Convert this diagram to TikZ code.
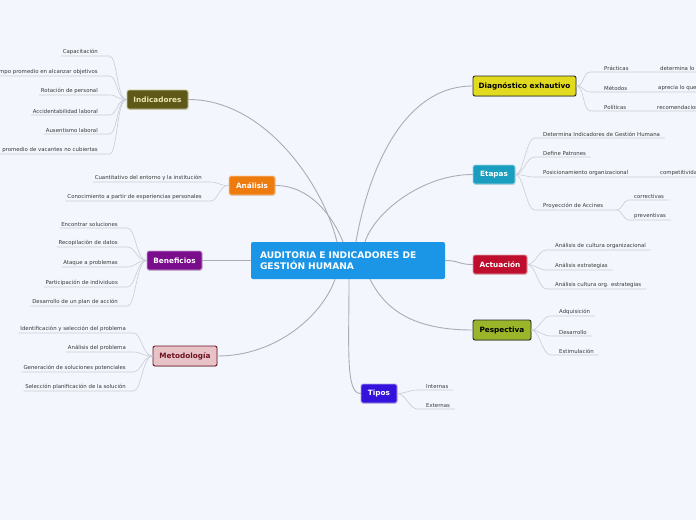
\documentclass[tikz,border=0pt]{standalone}
\usepackage{fontspec}
\setmainfont{DejaVu Sans}
\usetikzlibrary{shadows}
\definecolor{bgcol}{HTML}{F4F6FD}
\definecolor{cencol}{HTML}{1B95E6}
\definecolor{indcol}{HTML}{5F5919}
\definecolor{indbrd}{HTML}{C9C58E}
\definecolor{indtxt}{HTML}{ECE6B0}
\definecolor{anacol}{HTML}{EE7B0E}
\definecolor{bencol}{HTML}{7A0D8B}
\definecolor{metcol}{HTML}{E7C3C7}
\definecolor{mettxt}{HTML}{6D1020}
\definecolor{diacol}{HTML}{E2DA1E}
\definecolor{etpcol}{HTML}{1A9EBF}
\definecolor{actcol}{HTML}{BF0D2E}
\definecolor{pescol}{HTML}{9BB52B}
\definecolor{tipcol}{HTML}{3412DB}
\definecolor{leafcol}{HTML}{3A3A3A}
\definecolor{branchcol}{HTML}{ABACB5}
\definecolor{twigcol}{HTML}{CACCD5}
\begin{document}
\begin{tikzpicture}[x=1pt,y=-1pt,line cap=round,line join=round,
 topic/.style={draw,rounded corners=2pt,line width=.9pt,inner sep=1pt,
  minimum height=19pt,font=\bfseries\fontsize{7.3}{9}\selectfont,
  drop shadow={shadow xshift=.5pt,shadow yshift=-.8pt,opacity=.3}},
 leaf/.style={font=\fontsize{5.4}{6.5}\selectfont,text=leafcol,
  inner xsep=1.5pt,inner ysep=1.5pt},
 branch/.style={draw=branchcol,line width=.9pt},
 twig/.style={draw=twigcol,line width=.6pt}]
\fill[bgcol] (0,0) rectangle (696,520);
\useasboundingbox (0,0) rectangle (696,520);
\node[fill=cencol,text=white,rounded corners=2pt,minimum width=194pt,
 minimum height=37pt,text width=176pt,align=left,inner xsep=9pt,
 font=\bfseries\fontsize{9.1}{11.5}\selectfont] (cen) at (348,260.5)
 {AUDITORIA E INDICADORES DE\\GESTIÓN HUMANA};
\node[topic,fill=indcol,draw=indbrd,text=indtxt,minimum width=61pt] (ind) at (157.5,99.5) {Indicadores};
\node[topic,fill=anacol,draw=anacol!40,text=white,minimum width=46pt] (ana) at (252,185.5) {Análisis};
\node[topic,fill=bencol,draw=bencol!40,text=white,minimum width=55pt] (ben) at (174.5,260.5) {Beneficios};
\node[topic,fill=metcol,draw=mettxt,text=mettxt,minimum width=64pt,minimum height=20pt] (met) at (185,356) {Metodología};
\node[topic,fill=diacol,draw=black!85,text=black,minimum width=103pt,minimum height=20pt] (dia) at (524.5,86) {Diagnóstico exhautivo};
\node[topic,fill=etpcol,draw=etpcol!40,text=white,minimum width=42pt] (etp) at (494,174.5) {Etapas};
\node[topic,fill=actcol,draw=actcol!40,text=white,minimum width=54pt] (act) at (500,264.5) {Actuación};
\node[topic,fill=pescol,draw=black!85,text=black,minimum width=58pt,minimum height=20pt] (pes) at (502,330) {Pespectiva};
\node[topic,fill=tipcol,draw=tipcol!40,text=white,minimum width=36pt] (tip) at (379,393.5) {Tipos};
\draw[branch] (ind.east) .. controls +(75,0) and +(-15,-60) .. ([xshift=-11pt]cen.north);
\draw[branch] (ana.east) .. controls +(35,0) and +(-10,-25) .. ([xshift=-5pt]cen.north);
\draw[branch] (ben.east) -- (cen.west);
\draw[branch] (met.east) .. controls +(60,0) and +(-12,35) .. ([xshift=-13pt]cen.south);
\draw[branch] (dia.west) .. controls +(-70,0) and +(12,-70) .. ([xshift=8pt]cen.north);
\draw[branch] (etp.west) .. controls +(-50,0) and +(10,-30) .. ([xshift=17pt]cen.north);
\draw[branch] (cen.east) .. controls +(14,0) and +(-14,0) .. (act.west);
\draw[branch] ([xshift=22pt]cen.south) .. controls +(15,30) and +(-60,0) .. (pes.west);
\draw[branch] ([xshift=1pt]cen.south) .. controls +(0,70) and +(-15,0) .. (tip.west);
\node[leaf,anchor=south east] (i1) at (99.5,56) {Capacitación};
\node[leaf,anchor=south east] (i2) at (99.5,76) {Tiempo promedio en alcanzar objetivos};
\node[leaf,anchor=south east] (i3) at (99.5,95) {Rotación de personal};
\node[leaf,anchor=south east] (i4) at (99.5,115) {Accidentabilidad laboral};
\node[leaf,anchor=south east] (i5) at (99.5,134) {Ausentismo laboral};
\node[leaf,anchor=south east] (i6) at (99.5,154) {Tiempo promedio de vacantes no cubiertas};
\foreach \n in {i1,i2,i3,i4,i5,i6}
  \draw[twig] (ind.west) .. controls +(-10,0) and +(8,0) .. ([xshift=10pt]\n.south east) -- (\n.south west);
\node[leaf,anchor=south east] (a1) at (203.5,182) {Cuantitativo del entorno y la institución};
\node[leaf,anchor=south east] (a2) at (203.5,201) {Conocimiento a partir de experiencias personales};
\foreach \n in {a1,a2}
  \draw[twig] (ana.west) .. controls +(-10,0) and +(8,0) .. ([xshift=7pt]\n.south east) -- (\n.south west);
\node[leaf,anchor=south east] (b1) at (119.5,228) {Encontrar soluciones};
\node[leaf,anchor=south east] (b2) at (119.5,247) {Recopilación de datos};
\node[leaf,anchor=south east] (b3) at (119.5,267) {Ataque a problemas};
\node[leaf,anchor=south east] (b4) at (119.5,287) {Participación de individuos};
\node[leaf,anchor=south east] (b5) at (119.5,306) {Desarrollo de un plan de acción};
\foreach \n in {b1,b2,b3,b4,b5}
  \draw[twig] (ben.west) .. controls +(-10,0) and +(8,0) .. ([xshift=8pt]\n.south east) -- (\n.south west);
\node[leaf,anchor=south east] (m1) at (127.5,333) {Identificación y selección del problema};
\node[leaf,anchor=south east] (m2) at (127.5,352) {Análisis del problema};
\node[leaf,anchor=south east] (m3) at (127.5,372) {Generación de soluciones potenciales};
\node[leaf,anchor=south east] (m4) at (127.5,391) {Selección planificación de la solución};
\foreach \n in {m1,m2,m3,m4}
  \draw[twig] (met.west) .. controls +(-10,0) and +(8,0) .. ([xshift=6pt]\n.south east) -- (\n.south west);
\node[leaf,anchor=south west] (d1) at (602.5,72) {Prácticas};
\node[leaf,anchor=south west] (d2) at (602.5,92) {Métodos};
\node[leaf,anchor=south west] (d3) at (602.5,111) {Políticas};
\node[leaf,anchor=south west] (d1b) at (658.5,72) {determina lo};
\node[leaf,anchor=south west] (d2b) at (656.5,92) {aprecia lo que};
\node[leaf,anchor=south west] (d3b) at (655.5,111) {recomendaciones};
\draw[twig] (dia.east) .. controls +(8,0) and +(-8,0) .. ([xshift=-12pt]d1.south west) -- (d1b.south east);
\draw[twig] (dia.east) .. controls +(8,0) and +(-8,0) .. ([xshift=-12pt]d2.south west) -- (d2b.south east);
\draw[twig] (dia.east) .. controls +(8,0) and +(-8,0) .. ([xshift=-12pt]d3.south west) -- (d3b.south east);
\node[leaf,anchor=south west] (e1) at (541.5,138) {Determina Indicadores de Gestión Humana};
\node[leaf,anchor=south west] (e2) at (541.5,157) {Define Patrones};
\node[leaf,anchor=south west] (e3) at (541.5,177) {Posicionamiento organizacional};
\node[leaf,anchor=south west] (e4) at (541.5,210) {Proyección de Accines};
\node[leaf,anchor=south west] (e3b) at (658.5,177) {competitividad};
\node[leaf,anchor=south west] (e4a) at (632.5,200) {correctivas};
\node[leaf,anchor=south west] (e4b) at (632.5,220) {preventivas};
\draw[twig] (etp.east) .. controls +(8,0) and +(-8,0) .. ([xshift=-7pt]e1.south west) -- ([xshift=3pt]e1.south east);
\draw[twig] (etp.east) .. controls +(8,0) and +(-8,0) .. ([xshift=-7pt]e2.south west) -- ([xshift=3pt]e2.south east);
\draw[twig] (etp.east) .. controls +(8,0) and +(-8,0) .. ([xshift=-7pt]e3.south west) -- (e3b.south east);
\draw[twig] (etp.east) .. controls +(8,0) and +(-8,0) .. ([xshift=-7pt]e4.south west) -- ([xshift=12pt]e4.south east);
\foreach \n in {e4a,e4b}
  \draw[twig] ([xshift=12pt]e4.south east) .. controls +(5,0) and +(-5,0) .. ([xshift=-4pt]\n.south west) -- ([xshift=3pt]\n.south east);
\node[leaf,anchor=south west] (c1) at (553.5,250) {Análisis de cultura organizacional};
\node[leaf,anchor=south west] (c2) at (553.5,270) {Análisis estrategias};
\node[leaf,anchor=south west] (c3) at (553.5,289) {Análisis cultura org. estrategias};
\foreach \n in {c1,c2,c3}
  \draw[twig] (act.east) .. controls +(8,0) and +(-8,0) .. ([xshift=-7pt]\n.south west) -- ([xshift=3pt]\n.south east);
\node[leaf,anchor=south west] (p1) at (557.5,316) {Adquisición};
\node[leaf,anchor=south west] (p2) at (557.5,336) {Desarrollo};
\node[leaf,anchor=south west] (p3) at (557.5,355) {Estimulación};
\foreach \n in {p1,p2,p3}
  \draw[twig] (pes.east) .. controls +(8,0) and +(-8,0) .. ([xshift=-7pt]\n.south west) -- ([xshift=3pt]\n.south east);
\node[leaf,anchor=south west] (t1) at (424.5,390) {Internas};
\node[leaf,anchor=south west] (t2) at (424.5,409) {Externas};
\foreach \n in {t1,t2}
  \draw[twig] (tip.east) .. controls +(8,0) and +(-8,0) .. ([xshift=-7pt]\n.south west) -- ([xshift=3pt]\n.south east);
\end{tikzpicture}
\end{document}
